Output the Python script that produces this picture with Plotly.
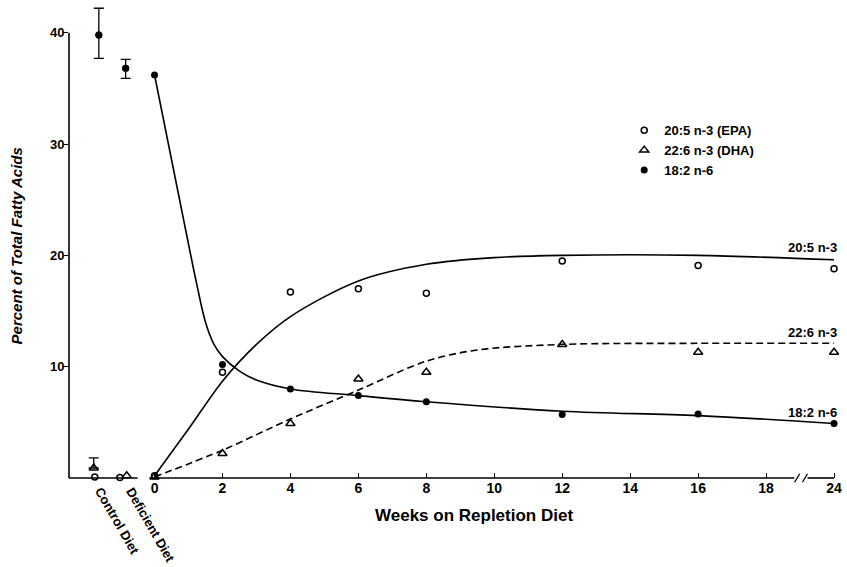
import plotly.graph_objects as go

# Weeks on the repletion diet at which plasma fatty acids were sampled
weeks = [0, 2, 4, 6, 8, 12, 16, 24]

epa_pct = [0.2, 9.5, 16.7, 17.0, 16.6, 19.5, 19.1, 18.8]
dha_pct = [0.1, 2.2, 4.9, 8.9, 9.5, 12.0, 11.3, 11.3]
la_pct = [36.2, 10.2, 8.0, 7.4, 6.85, 5.7, 5.75, 4.9]

# Reference diets, drawn to the left of week 0
diet_names = ["Control Diet", "Deficient Diet"]
diet_label_x = [-1.08, -0.1]
diet_label_shift = [-43, -47]
epa_diet_x = [-1.76, -1.02]
dha_diet_x = [-1.79, -0.82]
la_diet_x = [-1.64, -0.85]
epa_diet = [0.1, 0.05]
dha_diet = [0.9, 0.2]
dha_diet_err = [0.9, 0.0]
la_diet = [39.8, 36.8]
la_diet_err_plus = [2.4, 0.8]
la_diet_err_minus = [2.1, 0.9]

# Smoothed trend curves (weeks, percent)
epa_fit_weeks = [0, 1, 2, 3, 4, 6, 8, 10, 12, 16, 24]
epa_fit = [0.2, 4.4, 8.7, 12.0, 14.5, 17.7, 19.2, 19.8, 20.0, 20.0, 19.6]
dha_fit_weeks = [0, 2, 4, 6, 8, 9.5, 12, 16, 24]
dha_fit = [0.1, 2.5, 5.3, 7.9, 10.5, 11.5, 12.0, 12.1, 12.1]
la_fit_weeks = [0, 1.0, 1.25, 1.5, 1.75, 2.0, 2.5, 3.0, 4, 6, 8, 12, 16, 24]
la_fit = [36.2, 21.0, 17.3, 14.0, 12.0, 10.9, 9.6, 8.8, 8.0, 7.4, 6.85, 6.0, 5.6, 4.9]

# Axis ticks (the axis is broken between 18 and 24 weeks)
tick_weeks = [0, 2, 4, 6, 8, 10, 12, 14, 16, 18, 24]
y_ticks = [10, 20, 30, 40]

series_names = ["20:5 n-3 (EPA)", "22:6 n-3 (DHA)", "18:2 n-6"]
end_labels = ["20:5 n-3", "22:6 n-3", "18:2 n-6"]
end_label_y = [20.7, 13.1, 5.9]

BREAK_FROM, BREAK_TO = 18, 24
X0, X1 = -2.518, 20.117
Y0, Y1 = 0, 42.4
FONT = "Liberation Sans, Arial, Helvetica, sans-serif"
INK = "black"


def axis_pos(w):
    """Map a week onto the broken axis: 24 weeks sits two units past 18."""
    return w - (BREAK_TO - BREAK_FROM - 2) if w > BREAK_FROM else w


def px(ws):
    return [axis_pos(w) for w in ws]


def xpaper(v):
    return (v - X0) / (X1 - X0)


def ypaper(v):
    return (v - Y0) / (Y1 - Y0)


fig = go.Figure()

# Trend curves
fig.add_trace(go.Scatter(x=px(epa_fit_weeks), y=epa_fit, mode="lines",
                         line=dict(color=INK, width=1.6, shape="spline", smoothing=0.9),
                         showlegend=False, hoverinfo="skip"))
fig.add_trace(go.Scatter(x=px(dha_fit_weeks), y=dha_fit, mode="lines",
                         line=dict(color=INK, width=1.6, shape="spline", smoothing=0.9,
                                   dash="7px,4px"),
                         showlegend=False, hoverinfo="skip"))
fig.add_trace(go.Scatter(x=px(la_fit_weeks), y=la_fit, mode="lines",
                         line=dict(color=INK, width=1.6, shape="spline", smoothing=1.0),
                         showlegend=False, hoverinfo="skip"))

epa_marker = dict(symbol="circle-open", size=6, color=INK, line=dict(width=1.5, color=INK))
dha_marker = dict(symbol="triangle-up-open", size=8, color=INK, line=dict(width=1.5, color=INK))
la_marker = dict(symbol="circle", size=7, color=INK)

# Measured values during repletion
fig.add_trace(go.Scatter(x=epa_diet_x + px(weeks), y=epa_diet + epa_pct, mode="markers",
                         marker=epa_marker, name=series_names[0], cliponaxis=False))
fig.add_trace(go.Scatter(x=dha_diet_x[1:] + px(weeks), y=dha_diet[1:] + dha_pct, mode="markers",
                         marker=dha_marker, name=series_names[1], cliponaxis=False))
fig.add_trace(go.Scatter(x=la_diet_x + px(weeks), y=la_diet + la_pct, mode="markers",
                         marker=la_marker, name=series_names[2], cliponaxis=False))

# Diet groups with standard-error bars
fig.add_trace(go.Scatter(x=dha_diet_x[:1], y=dha_diet[:1], mode="markers",
                         marker=dha_marker, showlegend=False, cliponaxis=False,
                         error_y=dict(type="data", symmetric=False, array=dha_diet_err[:1],
                                      arrayminus=[0], color=INK, thickness=1.3, width=5)))
for xi, yi, ep, em in zip(la_diet_x, la_diet, la_diet_err_plus, la_diet_err_minus):
    fig.add_trace(go.Scatter(x=[xi], y=[yi], mode="markers", marker=la_marker,
                             showlegend=False, cliponaxis=False,
                             error_y=dict(type="data", symmetric=False, array=[ep],
                                          arrayminus=[em], color=INK, thickness=1.3, width=5)))

# Axis lines with breaks
line_style = dict(color=INK, width=1.6)
shapes = [
    dict(type="line", xref="paper", yref="paper", x0=0, x1=0, y0=0, y1=ypaper(40), line=line_style),
    dict(type="line", xref="paper", yref="paper", x0=0, x1=xpaper(-0.5), y0=0, y1=0, line=line_style),
    dict(type="line", xref="paper", yref="paper", x0=xpaper(-0.15), x1=xpaper(18.83), y0=0, y1=0,
         line=line_style),
    dict(type="line", xref="paper", yref="paper", x0=xpaper(19.22), x1=xpaper(20), y0=0, y1=0,
         line=line_style),
]
for sx in (18.84, 19.07):
    shapes.append(dict(type="line", xref="paper", yref="paper", x0=xpaper(sx), x1=xpaper(sx + 0.15),
                       y0=-0.009, y1=0.009, line=dict(color=INK, width=1.3)))

bold = dict(family=FONT, color=INK, weight="bold")
annotations = [
    dict(text="Weeks on Repletion Diet", xref="x", yref="paper", x=9.4, y=0, yshift=-37,
         showarrow=False, xanchor="center", yanchor="middle", font=dict(size=17, **bold)),
    dict(text="<i>Percent of Total Fatty Acids</i>", xref="paper", yref="y", x=0, xshift=-53, y=20.8,
         textangle=-90, showarrow=False, xanchor="center", yanchor="middle",
         font=dict(size=15, **bold)),
]
for name, lx, ys in zip(diet_names, diet_label_x, diet_label_shift):
    annotations.append(dict(text=name, xref="x", yref="paper", x=lx, y=0, yshift=ys,
                            textangle=60, showarrow=False, xanchor="center", yanchor="middle",
                            font=dict(size=13, **bold)))
for lab, ly in zip(end_labels, end_label_y):
    annotations.append(dict(text=lab, xref="paper", yref="y", x=1, xshift=1, y=ly,
                            showarrow=False, xanchor="right", yanchor="middle",
                            font=dict(size=13, **bold)))

fig.update_layout(
    width=847, height=567,
    margin=dict(l=69, r=5, t=6, b=89),
    paper_bgcolor="white", plot_bgcolor="white",
    font=dict(family=FONT, color=INK),
    xaxis=dict(range=[X0, X1], tickvals=px(tick_weeks), ticktext=[str(w) for w in tick_weeks],
               ticks="inside", ticklen=5, tickwidth=1.4, tickcolor=INK,
               showgrid=False, zeroline=False, showline=False,
               tickfont=dict(size=14, **bold)),
    yaxis=dict(range=[Y0, Y1], tickvals=y_ticks, ticks="outside", ticklen=5, tickwidth=1.4,
               tickcolor=INK, showgrid=False, zeroline=False, showline=False,
               ticklabelstandoff=-4, tickfont=dict(size=13, **bold)),
    legend=dict(x=0.722, y=0.7685, xanchor="left", yanchor="top",
                bgcolor="rgba(0,0,0,0)", font=dict(size=13, **bold), itemwidth=30),
    shapes=shapes,
    annotations=annotations,
    showlegend=True,
)

fig.write_html("out.html")
